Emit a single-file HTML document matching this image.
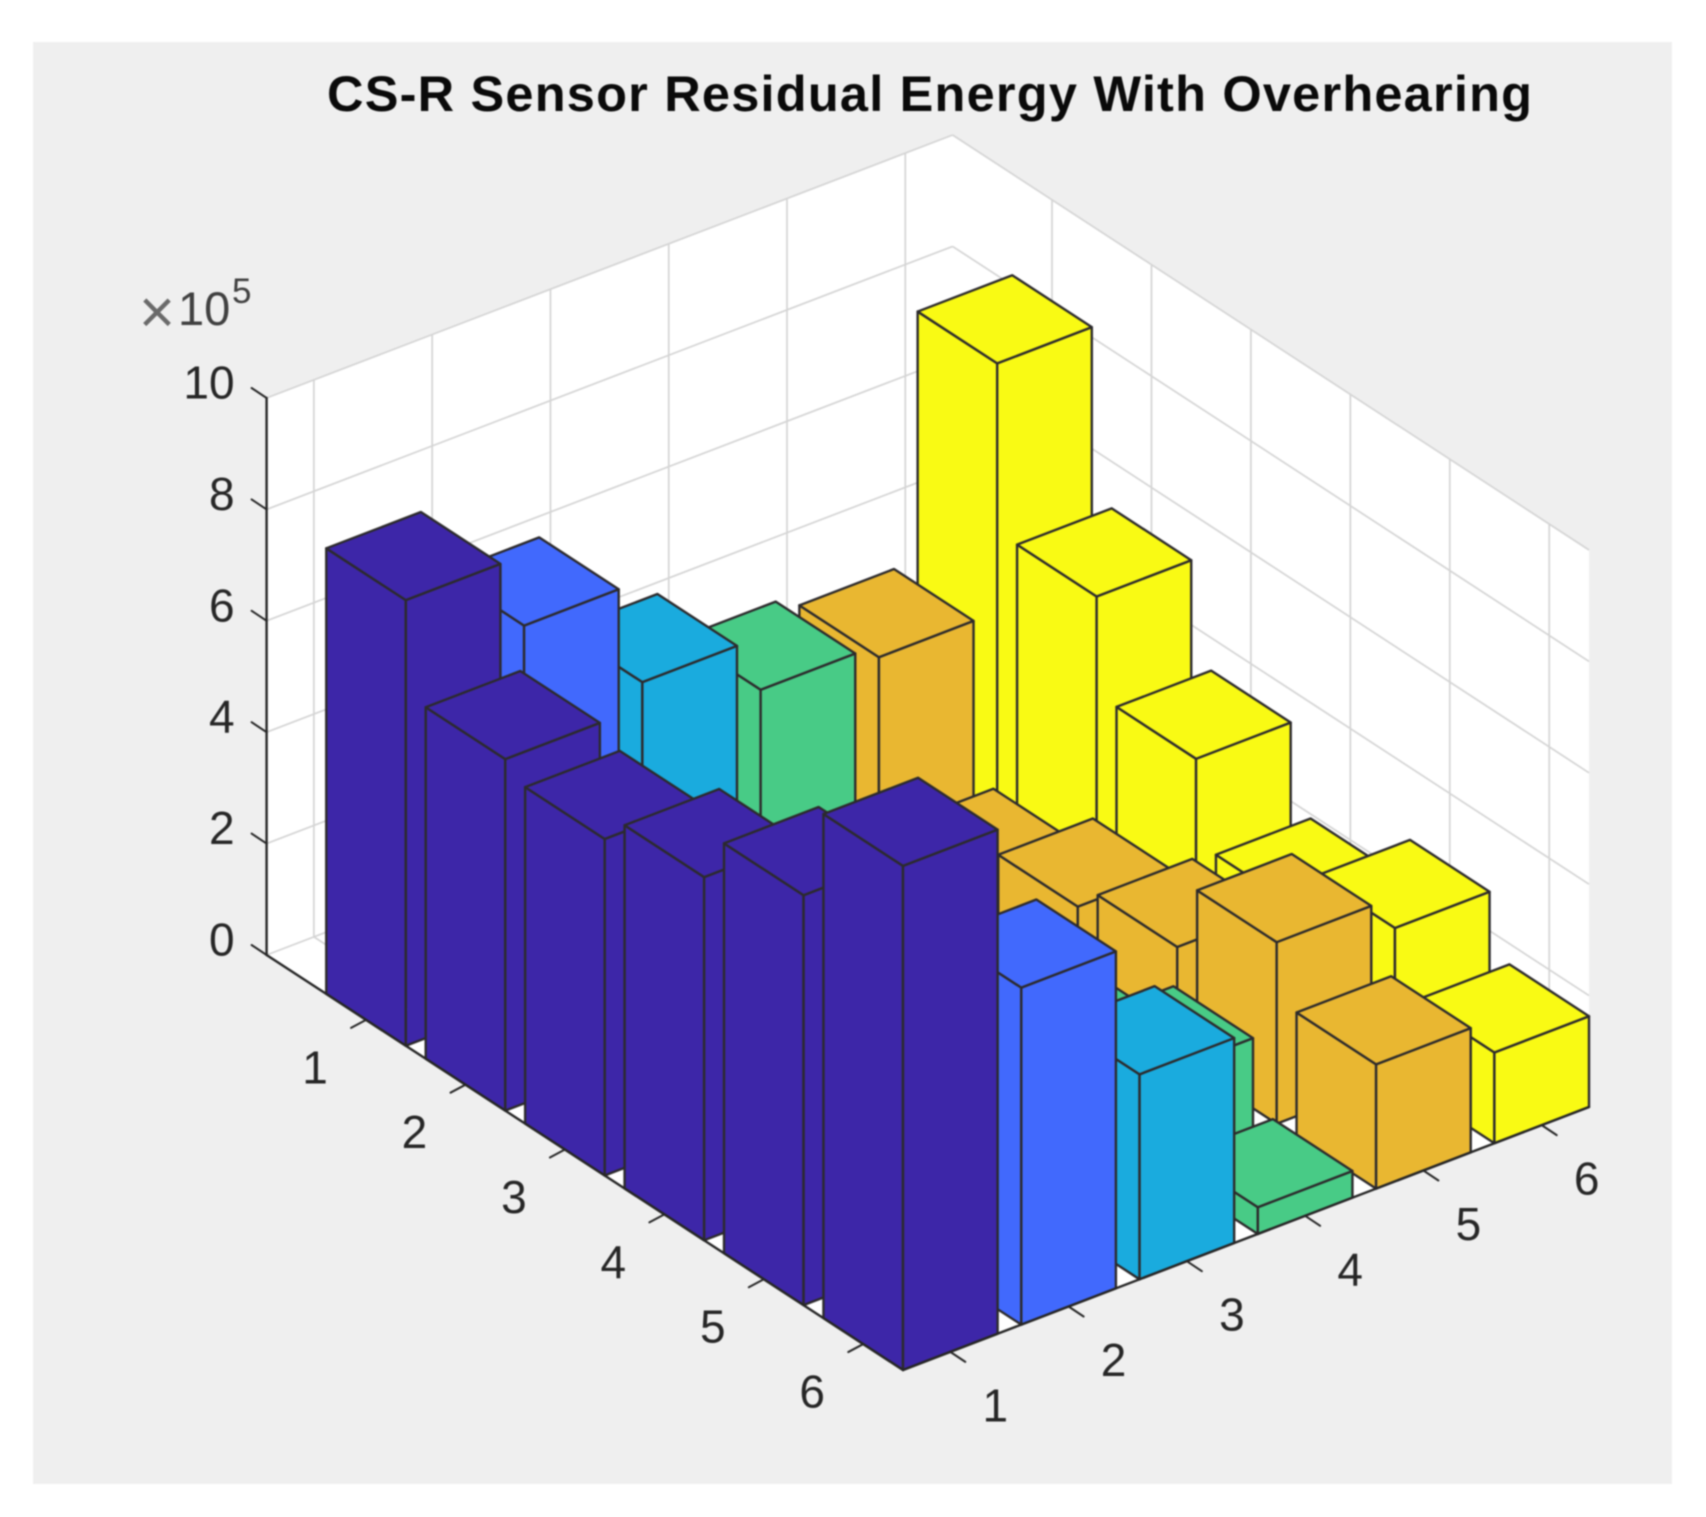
<!DOCTYPE html>
<html lang="en">
<head>
<meta charset="utf-8">
<title>CS-R Sensor Residual Energy With Overhearing</title>
<style>
  html, body { margin: 0; padding: 0; background: #ffffff; }
  body { width: 1706px; height: 1517px; overflow: hidden; }
  svg { display: block; filter: blur(0.7px); }
  text { font-family: "Liberation Sans", Arial, sans-serif; }
</style>
</head>
<body>
<svg id="chart" width="1706" height="1517" viewBox="0 0 1706 1517" xmlns="http://www.w3.org/2000/svg">
  <rect x="33" y="42" width="1639" height="1442" fill="#efefef"/>
  <text x="327" y="111" font-size="50.5" font-weight="700" fill="#0a0a0a" textLength="1205" lengthAdjust="spacing">CS-R Sensor Residual Energy With Overhearing</text>
  <g fill="#404040">
    <text x="157" y="333" font-size="62" text-anchor="middle" fill="#6a6a6a">×</text>
    <text x="178" y="325" font-size="47">10</text>
    <text x="232" y="303" font-size="35">5</text>
  </g>
  <g id="walls"></g>
  <g id="grid"></g>
  <g id="bars"></g>
  <g id="axes"></g>
  <g id="labels"></g>
</svg>
<script>
// ---- Chart data ----
const rowCategories = [1, 2, 3, 4, 5, 6];
const columnCategories = [1, 2, 3, 4, 5, 6];
const zTickValues = [0, 2, 4, 6, 8, 10];
// Bar heights in units of 1e5, one entry per row 1..6
const column1Values = [8.0, 6.31, 6.04, 6.52, 7.36, 9.05];
const column2Values = [6.73, 1.5, 1.2, 1.3, 1.4, 6.05];
const column3Values = [4.9, 0.8, 0.8, 0.9, 1.0, 3.68];
const column4Values = [3.95, 0.8, 0.9, 1.0, 1.7, 0.48];
const column5Values = [3.72, 0.94, 1.57, 2.01, 3.26, 2.23];
const column6Values = [8.18, 5.16, 3.41, 1.92, 2.7, 1.63];
const columnColors = ['#3d26a8', '#4169fd', '#1aabde', '#48cb86', '#e9b731', '#f9fa14'];

// ---- Axis functions ----
const SVG_NS = 'http://www.w3.org/2000/svg';
const rowMin = 0, rowMax = 6.4, colMin = 0.6, colMax = 6.4, zMax = 10, halfWidth = 0.4;
const originX = 266.6, originY = 955, rowSpanX = 636.4, rowSpanY = 415, colSpanX = 686, colSpanY = -263, zUnit = 55.7;

function project(r, c, z) {
  const fr = (r - rowMin) / (rowMax - rowMin);
  const fc = (c - colMin) / (colMax - colMin);
  return [originX + fr * rowSpanX + fc * colSpanX, originY + fr * rowSpanY + fc * colSpanY - z * zUnit];
}
function pts(list) {
  return list.map(function (p) { return p[0].toFixed(2) + ',' + p[1].toFixed(2); }).join(' ');
}
function make(tag, parent, attrs) {
  const el = document.createElementNS(SVG_NS, tag);
  Object.keys(attrs).forEach(function (k) { el.setAttribute(k, attrs[k]); });
  parent.appendChild(el);
  return el;
}

// ---- Walls and floor ----
const wallLayer = document.getElementById('walls');
const leftWall = make('polygon', wallLayer, { fill: '#ffffff', points: pts([project(rowMin, colMin, 0), project(rowMin, colMax, 0), project(rowMin, colMax, zMax), project(rowMin, colMin, zMax)]) });


const rightWall = make('polygon', wallLayer, { fill: '#ffffff', points: pts([project(rowMin, colMax, 0), project(rowMax, colMax, 0), project(rowMax, colMax, zMax), project(rowMin, colMax, zMax)]) });


const floorPlane = make('polygon', wallLayer, { fill: '#ffffff', points: pts([project(rowMin, colMin, 0), project(rowMax, colMin, 0), project(rowMax, colMax, 0), project(rowMin, colMax, 0)]) });



// ---- Grid ----
const gridLayer = document.getElementById('grid');
function gridLine(a, b, name) {
  const line = make('line', gridLayer, { x1: a[0], y1: a[1], x2: b[0], y2: b[1], stroke: '#d4d4d4', 'stroke-width': 1.7 });
  
  
}
zTickValues.forEach(function (z) {
  gridLine(project(rowMin, colMin, z), project(rowMin, colMax, z), 'z-grid-left-' + z);
  gridLine(project(rowMin, colMax, z), project(rowMax, colMax, z), 'z-grid-right-' + z);
});
columnCategories.forEach(function (c) {
  gridLine(project(rowMin, c, 0), project(rowMin, c, zMax), 'column-grid-wall-' + c);
  gridLine(project(rowMin, c, 0), project(rowMax, c, 0), 'column-grid-floor-' + c);
});
rowCategories.forEach(function (r) {
  gridLine(project(r, colMax, 0), project(r, colMax, zMax), 'row-grid-wall-' + r);
  gridLine(project(r, colMin, 0), project(r, colMax, 0), 'row-grid-floor-' + r);
});

// ---- Bars (painted back to front) ----
const barLayer = document.getElementById('bars');
const allColumns = [column1Values, column2Values, column3Values, column4Values, column5Values, column6Values];
function drawBar(r, c, h, color) {
  const rA = r - halfWidth, rB = r + halfWidth, cA = c - halfWidth, cB = c + halfWidth;
  const g = make('g', barLayer, { fill: color, stroke: '#2c2a2c', 'stroke-width': 2.4, 'stroke-linejoin': 'round' });
  
  
  make('polygon', g, { points: pts([project(rA, cA, 0), project(rB, cA, 0), project(rB, cA, h), project(rA, cA, h)]) });
  make('polygon', g, { points: pts([project(rB, cA, 0), project(rB, cB, 0), project(rB, cB, h), project(rB, cA, h)]) });
  make('polygon', g, { points: pts([project(rA, cA, h), project(rB, cA, h), project(rB, cB, h), project(rA, cB, h)]) });
}
for (let ci = columnCategories.length - 1; ci >= 0; ci--) {
  for (let ri = 0; ri < rowCategories.length; ri++) {
    drawBar(rowCategories[ri], columnCategories[ci], allColumns[ci][ri], columnColors[ci]);
  }
}

// ---- Axis lines and ticks ----
const axisLayer = document.getElementById('axes');
function axisLine(a, b, name, width) {
  const line = make('line', axisLayer, { x1: a[0], y1: a[1], x2: b[0], y2: b[1], stroke: '#262626', 'stroke-width': width, 'stroke-linecap': 'round' });
  
  
}
axisLine(project(rowMin, colMin, 0), project(rowMin, colMin, zMax), 'z-axis-line', 2.4);
axisLine(project(rowMin, colMin, 0), project(rowMax, colMin, 0), 'row-axis-line', 2.4);
axisLine(project(rowMax, colMin, 0), project(rowMax, colMax, 0), 'column-axis-line', 2.4);
const labelLayer = document.getElementById('labels');
function tickLabel(x, y, text, anchor, name) {
  const t = make('text', labelLayer, { x: x, y: y, 'font-size': 46, fill: '#262626', 'text-anchor': anchor });
  t.textContent = text;
  
  
}
zTickValues.forEach(function (z) {
  const p = project(rowMin, colMin, z);
  axisLine(p, [p[0] - 15, p[1] - 10], 'z-tick-' + z, 2);
  tickLabel(p[0] - 32, p[1] + 0.5, String(z), 'end', 'z-tick-label-' + z);
});
rowCategories.forEach(function (r) {
  const p = project(r, colMin, 0);
  axisLine(p, [p[0] - 15, p[1] + 8], 'row-tick-' + r, 2);
  tickLabel(p[0] - 51, p[1] + 63.5, String(r), 'middle', 'row-tick-label-' + r);
});
columnCategories.forEach(function (c) {
  const p = project(rowMax, c, 0);
  axisLine(p, [p[0] + 15, p[1] + 10], 'column-tick-' + c, 2);
  tickLabel(p[0] + 45, p[1] + 69.5, String(c), 'middle', 'column-tick-label-' + c);
});
</script>
</body>
</html>
